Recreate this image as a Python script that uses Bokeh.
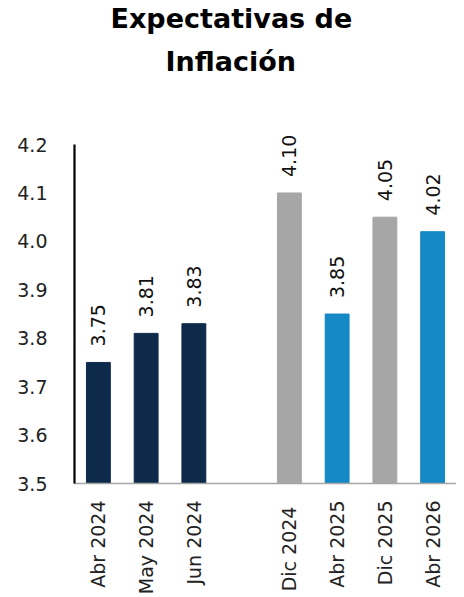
import math
from bokeh.plotting import figure
from bokeh.models import FactorRange, ColumnDataSource, Range1d, FixedTicker, Title
from bokeh.embed import file_html
from bokeh.resources import INLINE
from bokeh.core.properties import value

categories = ["Abr 2024", "May 2024", "Jun 2024", "Dic  2024", "Abr 2025", "Dic 2025", "Abr 2026"]
values = [3.75, 3.81, 3.83, 4.10, 3.85, 4.05, 4.02]
value_labels = ["3.75", "3.81", "3.83", "4.10", "3.85", "4.05", "4.02"]
bar_colors = ["#0e2a4a", "#0e2a4a", "#0e2a4a", "#a6a6a6", "#1589c6", "#a6a6a6", "#1589c6"]
y_ticks = [3.5, 3.6, 3.7, 3.8, 3.9, 4.0, 4.1, 4.2]
y_tick_labels = ["3.5", "3.6", "3.7", "3.8", "3.9", "4.0", "4.1", "4.2"]
title_lines = ["Expectativas de", "Inflación"]

factors = categories[:3] + [" "] + categories[3:]

src = ColumnDataSource(dict(cat=categories, val=values, lab=value_labels, color=bar_colors))

p = figure(width=456, height=597, x_range=FactorRange(factors=factors, range_padding=0),
           y_range=Range1d(3.5, 4.3178), output_backend="svg", toolbar_location=None,
           min_border_left=74, min_border_right=0, min_border_bottom=112, min_border_top=0)

# outer (top) title line
p.title.text = title_lines[0]
p.title.align = "left"
p.title.offset = 36
p.title.text_font = "DejaVu Sans"
p.title.text_font_size = "27px"
p.title.text_font_style = "bold"
p.title.text_color = "black"
p.title.standoff = 0

# inner (second) title line, closer to the frame
t2 = Title(text=title_lines[1], align="left", offset=91, text_font="DejaVu Sans",
           text_font_size="27px", text_font_style="bold", text_color="black", standoff=21)
p.add_layout(t2, "above")

p.vbar(x="cat", top="val", bottom=3.5, width=0.5, color="color", source=src)
p.text(x="cat", y="val", text="lab", angle=math.pi / 2, text_align="left", text_baseline="middle",
       y_offset=-16, text_font=value("DejaVu Sans"), text_font_size="19px", text_color="#111111",
       source=src)

p.outline_line_color = None
p.xgrid.grid_line_color = None
p.ygrid.grid_line_color = None

ya = p.yaxis[0]
ya.ticker = FixedTicker(ticks=y_ticks)
ya.major_label_overrides = {t: l for t, l in zip(y_ticks, y_tick_labels)}
ya.bounds = (3.5, 4.2)
ya.axis_line_color = "black"
ya.axis_line_width = 2.2
ya.major_tick_line_color = None
ya.minor_tick_line_color = None
ya.major_label_standoff = 21
ya.major_label_text_font = "DejaVu Sans"
ya.major_label_text_font_size = "19px"
ya.major_label_text_color = "#222222"

xa = p.xaxis[0]
xa.axis_line_color = "#a6a6a6"
xa.axis_line_width = 1.5
xa.major_tick_line_color = None
xa.minor_tick_line_color = None
xa.major_label_orientation = math.pi / 2
xa.major_label_standoff = 11
xa.major_label_text_font = "DejaVu Sans"
xa.major_label_text_font_size = "19px"
xa.major_label_text_color = "#222222"

open("out.html", "w").write(file_html(p, INLINE))
